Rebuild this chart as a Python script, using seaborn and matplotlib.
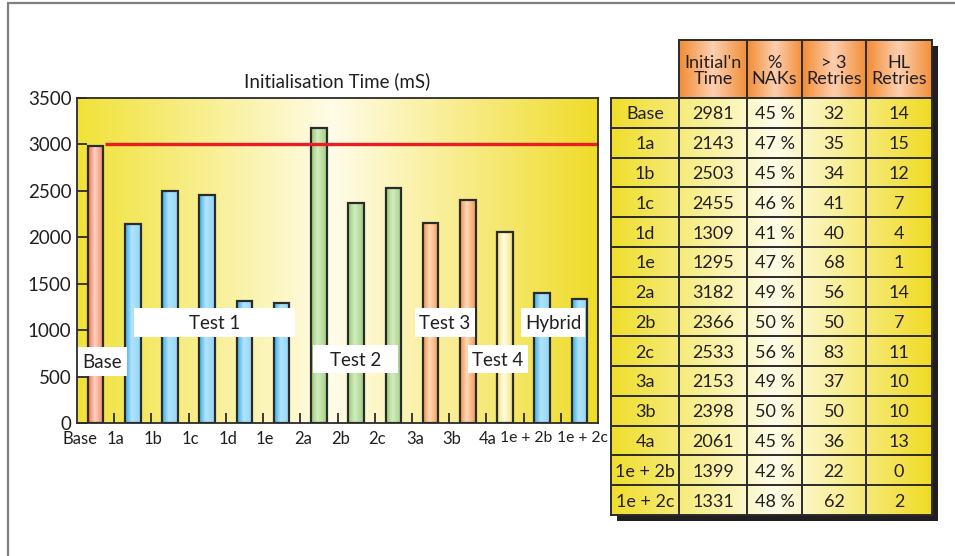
import numpy as np
import pandas as pd
import matplotlib
matplotlib.use("Agg")
import matplotlib.pyplot as plt
import seaborn as sns
from matplotlib.colors import LinearSegmentedColormap
from matplotlib.patches import Rectangle
from matplotlib.lines import Line2D

# ---- data -------------------------------------------------------------
categories = ["Base", "1a", "1b", "1c", "1d", "1e", "2a", "2b", "2c",
              "3a", "3b", "4a", "1e + 2b", "1e + 2c"]
init_time = [2981, 2143, 2503, 2455, 1309, 1295, 3182, 2366, 2533,
             2153, 2398, 2061, 1399, 1331]
nak_pct = [45, 47, 45, 46, 41, 47, 49, 50, 56, 49, 50, 45, 42, 48]
retries_over3 = [32, 35, 34, 41, 40, 68, 56, 50, 83, 37, 50, 36, 22, 62]
hl_retries = [14, 15, 12, 7, 4, 1, 14, 7, 11, 10, 10, 13, 0, 2]
groups = ["Base", "Test 1", "Test 1", "Test 1", "Test 1", "Test 1",
          "Test 2", "Test 2", "Test 2", "Test 3", "Test 3", "Test 4",
          "Hybrid", "Hybrid"]
baseline = 3000
chart_title = "Initialisation Time (mS)"
col_headers = ["Initial'n\nTime", "%\nNAKs", "> 3\nRetries", "HL\nRetries"]

# ---- layout / style ---------------------------------------------------
W, H = 955, 556
# group caption boxes (label, x0, x1, y0, y1) in data units
group_boxes = [("Base", -0.5, 0.84, 506, 818),
               ("Test 1", 1.03, 5.36, 926, 1238),
               ("Test 2", 5.84, 8.13, 538, 840),
               ("Test 3", 8.58, 10.20, 926, 1238),
               ("Test 4", 10.01, 11.62, 538, 840),
               ("Hybrid", 11.43, 13.15, 926, 1238)]
# x label offsets from the category boundary
label_shift = [0.09, 0.03, 0.04, 0.06, 0.05, 0.05, 0.07, 0.09, 0.06,
               0.08, 0.08, 0.04, 0.06, 0.59]

bar_grad = {
    "Base":   [(0.93, 0.42, 0.30), (1.00, 0.83, 0.76), (0.95, 0.50, 0.38)],
    "Test 1": [(0.20, 0.68, 0.91), (0.70, 0.89, 0.98), (0.56, 0.84, 0.96)],
    "Hybrid": [(0.20, 0.68, 0.91), (0.70, 0.89, 0.98), (0.56, 0.84, 0.96)],
    "Test 2": [(0.58, 0.79, 0.48), (0.83, 0.93, 0.74), (0.62, 0.81, 0.52)],
    "Test 3": [(0.96, 0.56, 0.26), (1.00, 0.85, 0.74), (0.96, 0.60, 0.30)],
    "Test 4": [(0.96, 0.88, 0.45), (1.00, 0.99, 0.90), (0.96, 0.89, 0.48)],
}
palette = {g: c[1] for g, c in bar_grad.items()}

FONT = "Lato"
FS = 13.5     # axis labels, captions, title
XFS = 12      # category labels
TFS = 13      # table text

sns.set_theme(style="white")
plt.rcParams["font.family"] = [FONT, "DejaVu Sans"]
TXT = "#231f20"
LINE = "#2b2b2b"

fig = plt.figure(figsize=(W / 100, H / 100), dpi=100)
fig.patch.set_facecolor("white")

# ---- bar chart --------------------------------------------------------
ax = fig.add_axes([77 / W, 1 - 423 / H, 521 / W, 325 / H])
df = pd.DataFrame({"config": categories, "time": init_time, "group": groups})
sns.barplot(data=df, x="config", y="time", hue="group", palette=palette,
            order=categories, dodge=False, width=0.42, edgecolor=LINE,
            linewidth=1.6, legend=False, ax=ax, zorder=3)

n = len(categories)
xlim = (-0.5, n - 0.5)
ylim = (0, 3500)

bg_cmap = LinearSegmentedColormap.from_list(
    "bg", [(0.0, (0.945, 0.886, 0.22)), (0.49, (1.0, 0.988, 0.91)),
           (1.0, (0.94, 0.862, 0.16))])
grad = np.linspace(0, 1, 256).reshape(1, -1)
ax.imshow(grad, cmap=bg_cmap, extent=(xlim[0], xlim[1], ylim[0], ylim[1]),
          aspect="auto", zorder=0)

# shaded bar faces
for p in list(ax.patches):
    x, w, h = p.get_x(), p.get_width(), p.get_height()
    idx = int(round(x + w / 2))
    cols = bar_grad[groups[idx]]
    cmap = LinearSegmentedColormap.from_list(
        "b", [(0, cols[0]), (0.42, cols[1]), (1, cols[2])])
    im = ax.imshow(grad, cmap=cmap, extent=(x, x + w, 0, h), aspect="auto",
                   zorder=2.5)
    im.set_clip_path(p)
    p.set_facecolor("none")
    p.set_zorder(3)

ax.hlines(baseline, 0.25, xlim[1], color="#ec1c24", lw=2.4, zorder=4)

for label, x0, x1, y0, y1 in group_boxes:
    ax.add_patch(Rectangle((x0, y0), x1 - x0, y1 - y0, facecolor="white",
                           edgecolor="none", zorder=5))
    ax.text((x0 + x1) / 2, (y0 + y1) / 2 - 15, label, ha="center",
            va="center", fontsize=FS, color=TXT, zorder=6)

ax.set_xlim(*xlim)
ax.set_ylim(*ylim)
ax.set_xticks(np.arange(n) - 0.5 + np.array(label_shift))
ax.set_xticklabels(categories, fontsize=XFS, color=TXT)
for t in ax.get_xticklabels():
    if "+" in t.get_text():
        t.set_fontsize(XFS - 0.7)
ax.set_xticks(np.arange(n - 1) + 0.5, minor=True)
ax.tick_params(axis="x", which="major", length=0, pad=6)
ax.tick_params(axis="x", which="minor", direction="in", length=7,
               width=1.3, color=LINE, bottom=True)
ax.set_yticks(np.arange(0, 3501, 500))
ax.tick_params(axis="y", direction="in", length=7.5, width=1.3,
               color=LINE, labelsize=FS, labelcolor=TXT, pad=4, left=True)
ax.set_xlabel("")
ax.set_ylabel("")
ax.set_title(chart_title, fontsize=FS, color=TXT, pad=8)
for s in ax.spines.values():
    s.set_color(LINE)
    s.set_linewidth(1.3)
    s.set_zorder(7)

# ---- table ------------------------------------------------------------
tax = fig.add_axes([0, 0, 1, 1])
tax.set_xlim(0, W)
tax.set_ylim(H, 0)
tax.axis("off")

col_edges = [611, 679, 747, 802, 866, 932]
head_top, body_top, body_bot = 40, 98, 515
row_h = (body_bot - body_top) / n
sh = 6

tax.add_patch(Rectangle((col_edges[0] + sh, body_top + sh),
                        col_edges[-1] - col_edges[0], body_bot - body_top,
                        facecolor=TXT, edgecolor="none", zorder=1))
tax.add_patch(Rectangle((col_edges[1] + sh, head_top + sh),
                        col_edges[-1] - col_edges[1], body_top - head_top,
                        facecolor=TXT, edgecolor="none", zorder=1))

tbl_cmap = LinearSegmentedColormap.from_list(
    "tbl", [(0.0, (0.94, 0.87, 0.17)), (0.51, (1.0, 0.99, 0.91)),
            (1.0, (0.94, 0.86, 0.14))])
tax.imshow(grad, cmap=tbl_cmap,
           extent=(col_edges[0], col_edges[-1], body_bot, body_top),
           aspect="auto", zorder=2)
head_cmap = LinearSegmentedColormap.from_list(
    "head", [(0.0, (0.95, 0.55, 0.20)), (0.5, (0.99, 0.81, 0.69)),
             (1.0, (0.95, 0.56, 0.22))])
for j in range(1, 5):
    tax.imshow(grad, cmap=head_cmap,
               extent=(col_edges[j], col_edges[j + 1], body_top, head_top),
               aspect="auto", zorder=2)

lw = 1.4
for i in range(n + 1):
    y = body_top + i * row_h
    tax.plot([col_edges[0], col_edges[-1]], [y, y], color=LINE, lw=lw,
             zorder=3, solid_capstyle="projecting")
tax.plot([col_edges[1], col_edges[-1]], [head_top, head_top], color=LINE,
         lw=lw, zorder=3, solid_capstyle="projecting")
for j, x in enumerate(col_edges):
    top = body_top if j == 0 else head_top
    tax.plot([x, x], [top, body_bot], color=LINE, lw=lw, zorder=3,
             solid_capstyle="projecting")

for j, htxt in enumerate(col_headers):
    cx = (col_edges[j + 1] + col_edges[j + 2]) / 2
    tax.text(cx, (head_top + body_top) / 2 + 2, htxt, ha="center",
             va="center", fontsize=TFS, color=TXT, linespacing=1.0, zorder=4)

for i in range(n):
    cy = body_top + (i + 0.5) * row_h + 1.5
    cells = [categories[i], f"{init_time[i]}", f"{nak_pct[i]} %",
             f"{retries_over3[i]}", f"{hl_retries[i]}"]
    for j, c in enumerate(cells):
        cx = (col_edges[j] + col_edges[j + 1]) / 2
        tax.text(cx, cy, c, ha="center", va="center", fontsize=TFS,
                 color=TXT, zorder=4)

# outer page frame (left and top edges)
fig.add_artist(Line2D([8 / W, 8 / W], [0, 1 - 3 / H], color="#7f7f7f",
                      lw=1.6, transform=fig.transFigure))
fig.add_artist(Line2D([8 / W, 1], [1 - 3 / H, 1 - 3 / H], color="#7f7f7f",
                      lw=1.6, transform=fig.transFigure))

fig.savefig("out.png", dpi=100)
